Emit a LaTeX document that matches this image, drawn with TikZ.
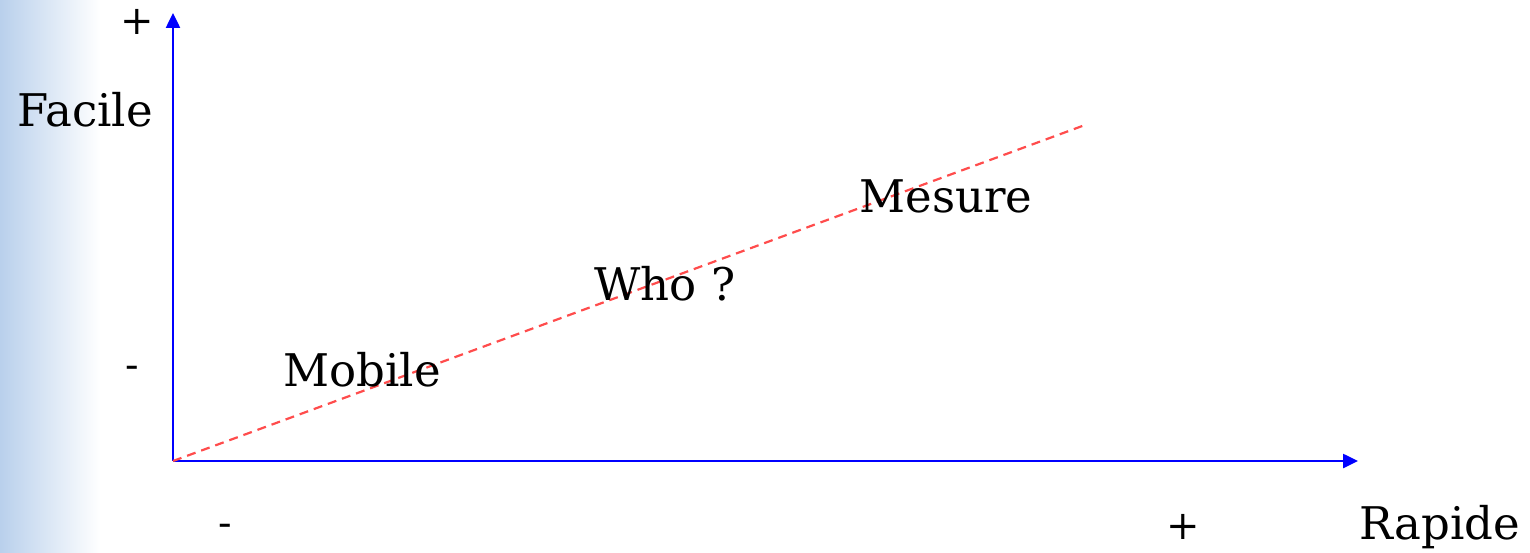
\documentclass[tikz,border=0pt]{standalone}
\usepackage{fontspec}
\setmainfont{DejaVu Serif}
\usetikzlibrary{arrows.meta}
\definecolor{stripblue}{RGB}{185,208,236}

\begin{document}
\begin{tikzpicture}[x=1pt,y=-1pt,
        axis/.style={blue,line width=2.5pt,-{Triangle[length=15pt,width=14pt]}},
        trend/.style={red!70,line width=2.2pt,dash pattern=on 9pt off 6pt},
        lbl/.style={inner sep=0pt,font=\fontsize{45}{54}\selectfont},
        sgn/.style={inner sep=0pt,font=\fontsize{40}{48}\selectfont}]
        \useasboundingbox (0,0) rectangle (1530,553);
        \shade[left color=stripblue,right color=white] (0,0) rectangle (100,553);
        \coordinate (o) at (173,461);
        \coordinate (ytop) at (173,13);
        \coordinate (xend) at (1358,461);
        \coordinate (tend) at (1085,125);
        \draw[axis] (o) -- (ytop);
        \draw[axis] (o) -- (xend);
        \draw[trend] (o) -- (tend);
        \node[sgn] (yplus) at (137,22) {+};
        \node[lbl] (facile) at (85,110) {Facile};
        \node[sgn] (yminus) at (132,372) {-};
        \node[lbl] (mobile) at (362,370) {Mobile};
        \node[lbl] (who) at (665,284) {Who ?};
        \node[lbl] (mesure) at (946,196) {Mesure};
        \node[sgn] (xminus) at (225,530) {-};
        \node[sgn] (xplus) at (1183,527) {+};
        \node[lbl] (rapide) at (1440,527) {Rapide};
    \end{tikzpicture}
\end{document}
